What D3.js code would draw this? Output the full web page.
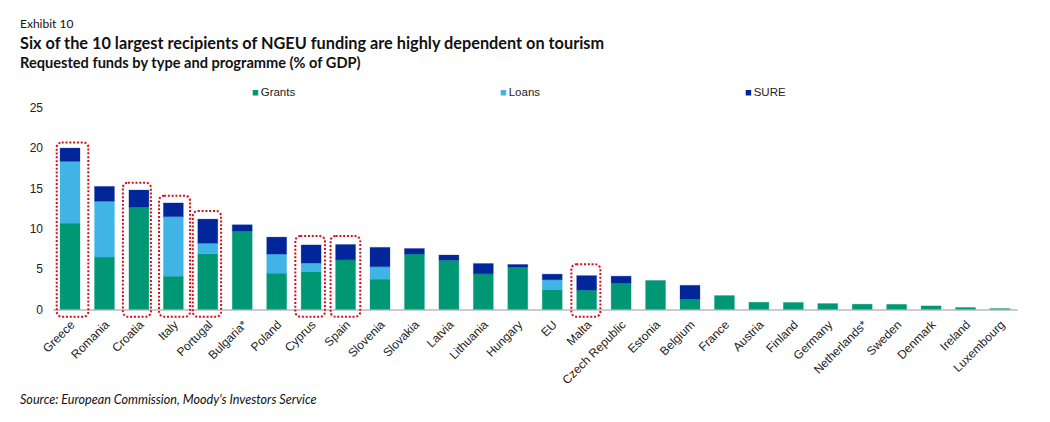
<!DOCTYPE html>
<html>
<head>
<meta charset="utf-8">
<script src="https://cdnjs.cloudflare.com/ajax/libs/d3/7.8.5/d3.min.js"></script>
<style>
  body { margin: 0; background: #fff; }
  svg { display: block; }
  .head { font-family: Lato, sans-serif; fill: #111; }
  .tick text, .legend text { font-family: "Liberation Sans", Arial, sans-serif; fill: #222; }
</style>
</head>
<body>
<svg id="chart" width="1050" height="422"></svg>
<script>
const categories = ["Greece", "Romania", "Croatia", "Italy", "Portugal", "Bulgaria*", "Poland", "Cyprus", "Spain", "Slovenia", "Slovakia", "Latvia", "Lithuania", "Hungary", "EU", "Malta", "Czech Republic", "Estonia", "Belgium", "France", "Austria", "Finland", "Germany", "Netherlands*", "Sweden", "Denmark", "Ireland", "Luxembourg"];
const grants = [10.7, 6.5, 12.7, 4.13, 6.9, 9.7, 4.5, 4.7, 6.15, 3.76, 6.86, 6.1, 4.42, 5.25, 2.48, 2.4, 3.26, 3.6, 1.28, 1.73, 0.9, 0.87, 0.74, 0.66, 0.64, 0.45, 0.25, 0.12];
const loans = [7.65, 6.9, 0, 7.37, 1.3, 0, 2.36, 1.05, 0, 1.54, 0, 0, 0, 0, 1.2, 0, 0, 0, 0, 0, 0, 0, 0, 0, 0, 0, 0, 0];
const sure = [1.65, 1.85, 2.1, 1.7, 3.0, 0.8, 2.11, 2.25, 1.9, 2.4, 0.7, 0.65, 1.28, 0.33, 0.7, 1.8, 0.87, 0, 1.72, 0, 0, 0, 0, 0, 0, 0, 0, 0];
const yTicks = [0, 5, 10, 15, 20, 25];
const seriesNames = ["Grants", "Loans", "SURE"];
const highlighted = ["Greece", "Croatia", "Italy", "Portugal", "Cyprus", "Spain", "Malta"];
const highlightTop = [20.7, 15.7, 14.1, 12.2, 9.1, 9.1, 5.6];

const colors = {Grants: "#009874", Loans: "#40b4e5", SURE: "#00269a"};

const svg = d3.select("#chart");

const x = d3.scaleBand().domain(categories).range([52.8, 1017.2]).paddingInner(0.42).paddingOuter(0.21);
const y = d3.scaleLinear().domain([0, 25]).range([309.5, 107.7]);

const rows = categories.map((c, i) => ({name: c, Grants: grants[i], Loans: loans[i], SURE: sure[i]}));
const stacked = d3.stack().keys(seriesNames)(rows);

// headings
svg.append("text").attr("class", "head").attr("x", 20).attr("y", 28).attr("font-size", 12).text("Exhibit 10");
svg.append("text").attr("class", "head").attr("x", 20).attr("y", 49).attr("font-size", 16.3).attr("font-weight", 700)
  .text("Six of the 10 largest recipients of NGEU funding are highly dependent on tourism");
svg.append("text").attr("class", "head").attr("x", 20).attr("y", 68).attr("font-size", 14.6).attr("font-weight", 700)
  .text("Requested funds by type and programme (% of GDP)");
svg.append("text").attr("class", "head").attr("x", 20).attr("y", 404).attr("font-size", 12.6).attr("font-style", "italic")
  .text("Source: European Commission, Moody's Investors Service");

// legend
const legendX = d3.scaleOrdinal().domain(seriesNames).range([252.7, 500.7, 745.7]);
const legend = svg.append("g").attr("class", "legend").selectAll("g").data(seriesNames).join("g")
  .attr("transform", d => `translate(${legendX(d)},90)`);
legend.append("rect").attr("width", 5.5).attr("height", 5.5).attr("fill", d => colors[d]);
legend.append("text").attr("x", 8).attr("y", 6).attr("font-size", 11.5).text(d => d);

// bars
svg.append("g").selectAll("g").data(stacked).join("g")
  .attr("fill", d => colors[d.key])
  .attr("stroke", d => colors[d.key])
  .attr("stroke-opacity", 0.25)
  .selectAll("rect").data(d => d).join("rect")
  .attr("x", d => x(d.data.name))
  .attr("width", x.bandwidth())
  .attr("y", d => y(d[1]))
  .attr("height", d => y(d[0]) - y(d[1]))
  .attr("display", d => d[1] > d[0] ? null : "none");

// axes
const yAxis = svg.append("g").attr("transform", "translate(52,0)")
  .call(d3.axisLeft(y).tickValues(yTicks).tickSize(0).tickPadding(9));
yAxis.select(".domain").remove();
yAxis.selectAll("text").attr("font-size", 12);

const xAxis = svg.append("g").attr("transform", `translate(0,${y(0)})`)
  .call(d3.axisBottom(x).tickSize(0));
xAxis.select(".domain").attr("stroke", "#999").attr("stroke-width", 1);
xAxis.selectAll("text")
  .attr("font-size", 12)
  .attr("text-anchor", "end")
  .attr("dy", null)
  .attr("y", 0)
  .attr("transform", "translate(5.5,16) rotate(-45)");

// dotted boxes round the tourism dependent countries, [left, right] pad from bar centre
const boxPad = {Greece: [13.3, 18.3], Croatia: [16, 12], Italy: [14.3, 16.7], Portugal: [15, 13.3], Cyprus: [15.8, 13.8], Spain: [15, 14.7], Malta: [15.3, 13.7]};
const boxBottom = y(0) + 7.2;
svg.append("g").selectAll("rect").data(highlighted).join("rect")
  .attr("x", d => x(d) + x.bandwidth() / 2 - boxPad[d][0])
  .attr("width", d => boxPad[d][0] + boxPad[d][1])
  .attr("y", (d, i) => y(highlightTop[i]))
  .attr("height", (d, i) => boxBottom - y(highlightTop[i]))
  .attr("rx", 5)
  .attr("fill", "none")
  .attr("stroke", "#d0101c")
  .attr("stroke-width", 2)
  .attr("stroke-dasharray", "2 1.8");
</script>
</body>
</html>
